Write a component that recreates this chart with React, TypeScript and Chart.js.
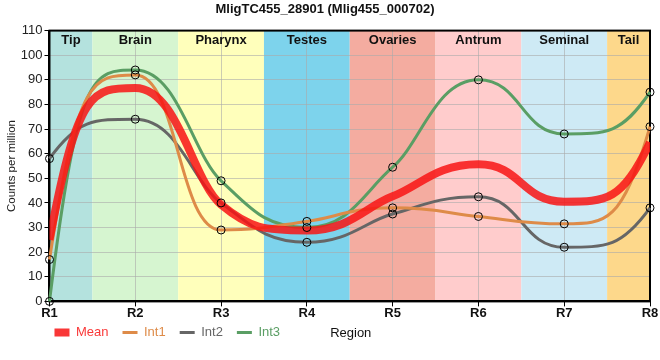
import React, { useEffect, useRef } from "react";
import { Chart, registerables } from "chart.js";

Chart.register(...registerables);

const titleText = "MligTC455_28901 (Mlig455_000702)";
const categories = ["R1", "R2", "R3", "R4", "R5", "R6", "R7", "R8"];
const regionNames = ["Tip", "Brain", "Pharynx", "Testes", "Ovaries", "Antrum", "Seminal", "Tail"];
const regionColors = ["#b4e2de", "#d6f5d0", "#ffffbb", "#7dd3ec", "#f4aca0", "#ffcccc", "#ceeaf5", "#fdd88b"];
const meanValues = [25, 86.7, 39.3, 28.8, 42.7, 55.7, 40.5, 64.6];
const int1Values = [17, 92, 29, 32.5, 38, 34.5, 31.5, 71];
const int2Values = [58, 74, 40, 24, 35.5, 42.5, 22, 38];
const int3Values = [0, 94, 49, 30, 54.5, 90, 68, 85];
const yMin = 0;
const yMax = 110;
const yStep = 10;

const FONT = '"Liberation Sans", Arial, sans-serif';

// Reshapes the library's monotone bezier control points: flat, wider shoulders at
// local extrema and steep starts at the ends (style of the reference curves).
const curveShapePlugin = {
  id: "curveShape",
  beforeDatasetDraw(chart: any, args: any) {
    const meta = args.meta;
    const ds = chart.data.datasets[args.index];
    if (!meta.dataset || ds.showLine === false) return;
    const line = meta.dataset;
    const pts = meta.data;
    line.updateControlPoints(chart.chartArea, "x");
    const EXT = 0.5;
    const MID = 1 / 3;
    const clamp = (v: number, a: number, b: number) => Math.max(Math.min(a, b), Math.min(Math.max(a, b), v));
    const slopes: number[] = [];
    const fracs: number[] = [];
    for (let i = 0; i < pts.length; i++) {
      const p = pts[i];
      const prev = pts[i - 1];
      const next = pts[i + 1];
      let m = 0;
      let f = MID;
      if (!prev) m = (3 * (next.y - p.y)) / (next.x - p.x);
      else if (!next) m = (3 * (p.y - prev.y)) / (p.x - prev.x);
      else {
        const sl = (p.y - prev.y) / (p.x - prev.x);
        const sr = (next.y - p.y) / (next.x - p.x);
        if (sl * sr <= 0) {
          m = 0;
          f = EXT;
        } else {
          m = p.cp2x !== p.x ? (p.cp2y - p.y) / (p.cp2x - p.x) : 0;
        }
      }
      slopes.push(m);
      fracs.push(f);
    }
    for (let i = 0; i < pts.length; i++) {
      const p = pts[i];
      const prev = pts[i - 1];
      const next = pts[i + 1];
      const m = slopes[i];
      const f = fracs[i];
      if (prev) {
        const h = p.x - prev.x;
        p.cp1x = p.x - f * h;
        p.cp1y = clamp(p.y - m * f * h, prev.y, p.y);
      } else {
        p.cp1x = p.x;
        p.cp1y = p.y;
      }
      if (next) {
        const h = next.x - p.x;
        p.cp2x = p.x + f * h;
        p.cp2y = clamp(p.y + m * f * h, p.y, next.y);
      } else {
        p.cp2x = p.x;
        p.cp2y = p.y;
      }
    }
  },
};

const bandsPlugin = {
  id: "bands",
  afterLayout(chart: any) {
    const lg = chart.legend;
    if (lg) {
      lg.left -= 9;
      lg.right -= 9;
      lg.top -= 9;
      lg.bottom -= 9;
    }
  },
  beforeDraw(chart: any) {
    const { ctx, chartArea: a, scales } = chart;
    const x = scales.x;
    const hw = (x.getPixelForValue(1) - x.getPixelForValue(0)) / 2;
    ctx.save();
    regionNames.forEach((_, i) => {
      const cx = x.getPixelForValue(i);
      const l = Math.max(a.left, cx - hw);
      const r = Math.min(a.right, cx + hw);
      ctx.fillStyle = regionColors[i];
      ctx.fillRect(l, a.top, r - l, a.bottom - a.top);
    });
    ctx.restore();
  },
  beforeDatasetsDraw(chart: any) {
    const { ctx, chartArea: a, scales } = chart;
    const x = scales.x;
    const hw = (x.getPixelForValue(1) - x.getPixelForValue(0)) / 2;
    ctx.save();
    ctx.font = "bold 13px " + FONT;
    ctx.fillStyle = "#111";
    ctx.textAlign = "center";
    ctx.textBaseline = "middle";
    regionNames.forEach((name, i) => {
      const cx = x.getPixelForValue(i);
      const l = Math.max(a.left, cx - hw);
      const r = Math.min(a.right, cx + hw);
      ctx.fillText(name, (l + r) / 2, a.top + 10);
    });
    ctx.strokeStyle = "#000";
    ctx.lineWidth = 2;
    ctx.strokeRect(a.left, a.top, a.right - a.left, a.bottom - a.top);
    ctx.restore();
  },
  afterDraw(chart: any) {
    const { ctx, chartArea: a } = chart;
    const lg = chart.legend;
    let y = a.bottom + 31;
    if (lg && lg.legendHitBoxes && lg.legendHitBoxes.length) {
      const hb = lg.legendHitBoxes[0];
      y = hb.top + hb.height / 2;
    }
    ctx.save();
    ctx.font = "13px " + FONT;
    ctx.fillStyle = "#111";
    ctx.textAlign = "center";
    ctx.textBaseline = "middle";
    ctx.fillText("Region", (a.left + a.right) / 2 + 1, y + 1);
    ctx.restore();
  },
};

function pointSet(data: number[]) {
  return {
    label: "_pts",
    data,
    showLine: false,
    pointRadius: 4,
    pointBorderWidth: 1,
    pointBorderColor: "#000",
    pointBackgroundColor: "rgba(0,0,0,0)",
    borderColor: "rgba(0,0,0,0)",
    order: 0,
    clip: false as any,
  };
}

export default function App() {
  const ref = useRef<HTMLCanvasElement | null>(null);
  useEffect(() => {
    if (!ref.current) return;
    Chart.defaults.font.family = FONT;
    const chart = new Chart(ref.current, {
      type: "line",
      data: {
        labels: categories,
        datasets: [
          {
            label: "Mean",
            data: meanValues,
            borderColor: "rgba(248,20,20,0.85)",
            backgroundColor: "rgba(248,20,20,0.85)",
            borderWidth: 8,
            pointRadius: 0,
            cubicInterpolationMode: "monotone",
            order: 1,
            clip: { left: 0, right: 0, top: false, bottom: false } as any,
          },
          {
            label: "Int1",
            data: int1Values,
            borderColor: "#de8b48",
            backgroundColor: "#de8b48",
            borderWidth: 3,
            pointRadius: 0,
            cubicInterpolationMode: "monotone",
            order: 2,
            clip: false as any,
          },
          {
            label: "Int2",
            data: int2Values,
            borderColor: "#666666",
            backgroundColor: "#666666",
            borderWidth: 3,
            pointRadius: 0,
            cubicInterpolationMode: "monotone",
            order: 2,
            clip: false as any,
          },
          {
            label: "Int3",
            data: int3Values,
            borderColor: "#5a9e64",
            backgroundColor: "#5a9e64",
            borderWidth: 3,
            pointRadius: 0,
            cubicInterpolationMode: "monotone",
            order: 2,
            clip: false as any,
          },
          pointSet(int1Values) as any,
          pointSet(int2Values) as any,
          pointSet(int3Values) as any,
        ],
      },
      options: {
        responsive: false,
        animation: false,
        layout: { padding: { left: 0, right: 10, top: 0, bottom: 2 } },
        plugins: {
          tooltip: { enabled: false },
          title: {
            display: true,
            text: titleText,
            color: "#111",
            font: { size: 13, weight: "bold", family: FONT },
            padding: { top: 2, bottom: 13 },
          },
          legend: {
            position: "bottom",
            align: "start",
            fullSize: false,
            labels: {
              usePointStyle: true,
              pointStyle: "line",
              pointStyleWidth: 15,
              boxHeight: 10,
              padding: 14,
              font: { size: 13, family: FONT },
              filter: (item: any) => item.datasetIndex <= 3,
              sort: (a: any, b: any) => a.datasetIndex - b.datasetIndex,
              generateLabels: (c: any) => {
                const items = (Chart.defaults.plugins.legend.labels as any).generateLabels(c);
                return items.map((it: any) => ({ ...it, fontColor: it.strokeStyle, pointStyle: "line" }));
              },
            },
          },
        },
        scales: {
          x: {
            offset: false,
            grid: {
              offset: false,
              color: "rgba(170,170,170,0.6)",
              tickColor: "#000",
              tickLength: 5,
            },
            border: { color: "#000", width: 2 },
            ticks: { color: "#111", font: { size: 13, weight: "bold", family: FONT }, padding: -0.5 },
          },
          y: {
            min: yMin,
            max: yMax,
            grid: {
              color: "rgba(170,170,170,0.6)",
              tickColor: "#000",
              tickLength: 5,
            },
            border: { color: "#000", width: 2 },
            ticks: { stepSize: yStep, color: "#222", font: { size: 13, family: FONT }, padding: 2 },
            title: {
              display: true,
              text: "Counts per million",
              color: "#222",
              font: { size: 11.5, family: FONT },
              padding: { top: 5, bottom: 0 },
            },
          },
        },
      },
      plugins: [curveShapePlugin, bandsPlugin],
    } as any);
    return () => chart.destroy();
  }, []);
  return (
    <div style={{ position: "absolute", left: 0, top: 0, width: 660, height: 360, background: "#fff" }}>
      <canvas ref={ref} width={660} height={360} />
    </div>
  );
}
